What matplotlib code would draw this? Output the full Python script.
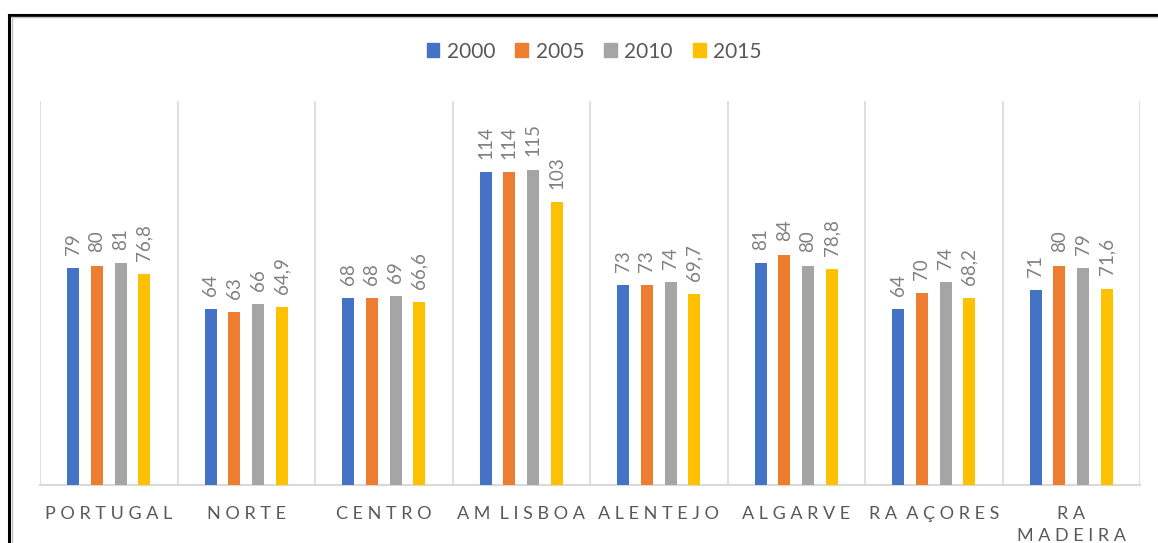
import matplotlib
matplotlib.use("Agg")
import matplotlib.pyplot as plt
from matplotlib.patches import Patch
from matplotlib.lines import Line2D
import numpy as np

plt.rcParams['font.family'] = ['Lato', 'DejaVu Sans']

categories = ["PORTUGAL", "NORTE", "CENTRO", "AM LISBOA", "ALENTEJO", "ALGARVE", "RA AÇORES", "RA\nMADEIRA"]
series_names = ["2000", "2005", "2010", "2015"]
v2000 = [79, 64, 68, 114, 73, 81, 64, 71]
v2005 = [80, 63, 68, 114, 73, 84, 70, 80]
v2010 = [81, 66, 69, 115, 74, 80, 74, 79]
v2015 = [76.8, 64.9, 66.6, 103, 69.7, 78.8, 68.2, 71.6]
colors = ["#4472C4", "#ED7D31", "#A5A5A5", "#FFC000"]

series = [v2000, v2005, v2010, v2015]

def spaced(label):
    lines = []
    for line in label.split("\n"):
        words = [" ".join(list(w)) for w in line.split(" ")]
        lines.append("  ".join(words))
    return "\n".join(lines)

def fmt(v):
    if float(v).is_integer():
        return str(int(v))
    return f"{v:.1f}".replace(".", ",")

W, H = 1158, 543
fig = plt.figure(figsize=(W / 100, H / 100), dpi=100)
ax = fig.add_axes([40 / W, 1 - 485 / H, 1100 / W, (485 - 101) / H])

x = np.arange(len(categories))
step = 0.172
bw = 0.088
for i, (vals, c) in enumerate(zip(series, colors)):
    pos = x + (i - 1.5) * step
    ax.bar(pos, vals, width=bw, color=c, label=series_names[i], zorder=3)
    for xp, v in zip(pos, vals):
        ax.annotate(fmt(v), (xp, v), xytext=(0, 9.5), textcoords="offset points",
                    rotation=90, ha="center", va="bottom", fontsize=13.5,
                    color="#808080")

ax.set_xlim(-0.5, len(categories) - 0.5)
ax.set_ylim(0, 140)
ax.set_yticks([])
ax.set_xticks(x)
ax.set_xticklabels([spaced(c) for c in categories], fontsize=13, color="#595959",
                   linespacing=1.45, va="top")
ax.tick_params(axis="x", length=0, pad=15)
ax.set_xticks(np.arange(-0.5, len(categories), 1.0), minor=True)
ax.tick_params(axis="x", which="minor", length=0)
ax.grid(axis="x", which="minor", color="#D9D9D9", lw=1.2, zorder=0)
for s in ["left", "right", "top"]:
    ax.spines[s].set_visible(False)
ax.spines["bottom"].set_color("#D9D9D9")
ax.spines["bottom"].set_linewidth(1.5)

handles = [Patch(color=c, label=n) for c, n in zip(colors, series_names)]
fig.legend(handles=handles, loc="center", bbox_to_anchor=(0.513, 1 - 51.5 / H),
           ncol=4, frameon=False, fontsize=15, handlelength=0.62, handleheight=0.62,
           handletextpad=0.36, columnspacing=0.95, labelcolor="#595959")

# outer border
fig.add_artist(Line2D([9 / W, 9 / W], [0, 1 - 14.5 / H], transform=fig.transFigure,
                      color="black", lw=2.2))
fig.add_artist(Line2D([9 / W, 1.0], [1 - 14.5 / H, 1 - 14.5 / H], transform=fig.transFigure,
                      color="black", lw=2.2))
fig.add_artist(Line2D([11.5 / W, 11.5 / W], [0, 1 - 17 / H], transform=fig.transFigure,
                      color="#C0C0C0", lw=1))
fig.add_artist(Line2D([11.5 / W, 1.0], [1 - 17 / H, 1 - 17 / H], transform=fig.transFigure,
                      color="#C0C0C0", lw=1))

fig.savefig("out.png", dpi=100)
